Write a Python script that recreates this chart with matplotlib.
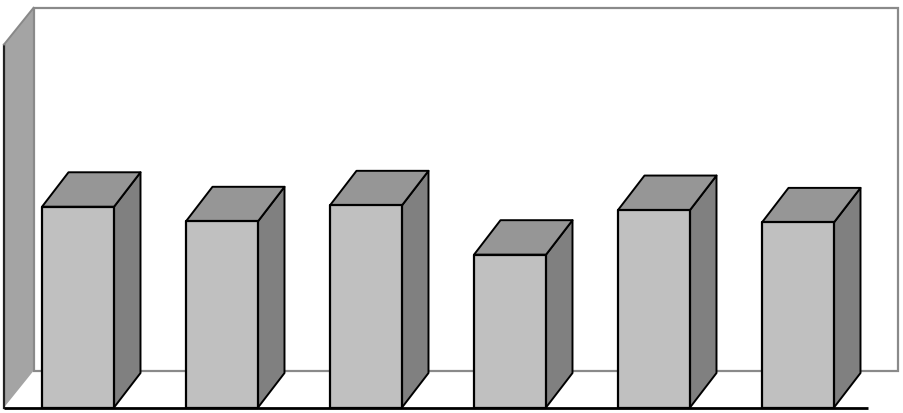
import matplotlib
matplotlib.use("Agg")
import matplotlib.pyplot as plt
from matplotlib.patches import Polygon

# ---- data ----
categories = ["1", "2", "3", "4", "5", "6"]
values = [55.3, 51.3, 55.7, 42.1, 54.4, 51.0]
wall_max = 100.0

# ---- style / geometry ----
front_col = "#c0c0c0"
top_col = "#969696"
side_col = "#808080"
wall_col = "#a4a4a4"
bar_w = 0.5
wall_dx, wall_dy = 0.205, 10.1     # depth offset of walls (data units)
bar_dx, bar_dy = 0.184, 9.5        # depth offset of bars
x_lo, x_hi = -0.514, 5.486          # floor front extent

fig = plt.figure(figsize=(9.04, 4.14), dpi=100)
ax = fig.add_axes([0, 0, 1, 1])
ax.set_xlim(-78 / 144, (904 - 78) / 144)
ax.set_ylim(-5.5 / 3.63, 408.5 / 3.63)
ax.axis("off")

# left side wall
left_wall = Polygon([(x_lo, 0), (x_lo, wall_max), (x_lo + wall_dx, wall_max + wall_dy),
                     (x_lo + wall_dx, wall_dy)], closed=True, facecolor=wall_col,
                    edgecolor="none", zorder=1)
ax.add_patch(left_wall)
ax.plot([x_lo, x_lo], [0, wall_max], color="#222222", lw=1.6, zorder=2)
ax.plot([x_lo, x_lo + wall_dx], [wall_max, wall_max + wall_dy], color="#888888", lw=1.4, zorder=2)

# back wall
back = Polygon([(x_lo + wall_dx, wall_dy), (x_lo + wall_dx, wall_max + wall_dy),
                (x_hi + wall_dx, wall_max + wall_dy), (x_hi + wall_dx, wall_dy)],
               closed=True, facecolor="white", edgecolor="#8a8a8a", lw=1.6, zorder=1)
ax.add_patch(back)

# floor front edge
ax.plot([x_lo, x_hi], [-0.25, -0.25], color="black", lw=2.0, zorder=5, solid_capstyle="butt")

# bars
for i, v in enumerate(values):
    x0, x1 = i - bar_w / 2, i + bar_w / 2
    side = Polygon([(x1, 0), (x1, v), (x1 + bar_dx, v + bar_dy), (x1 + bar_dx, bar_dy)],
                   closed=True, facecolor=side_col, edgecolor="black", lw=1.4,
                   joinstyle="round", zorder=3)
    top = Polygon([(x0, v), (x1, v), (x1 + bar_dx, v + bar_dy), (x0 + bar_dx, v + bar_dy)],
                  closed=True, facecolor=top_col, edgecolor="black", lw=1.4,
                  joinstyle="round", zorder=3)
    front = Polygon([(x0, 0), (x0, v), (x1, v), (x1, 0)], closed=True,
                    facecolor=front_col, edgecolor="black", lw=1.6,
                    joinstyle="round", zorder=4)
    ax.add_patch(side)
    ax.add_patch(top)
    ax.add_patch(front)

fig.savefig("out.png", dpi=100)
